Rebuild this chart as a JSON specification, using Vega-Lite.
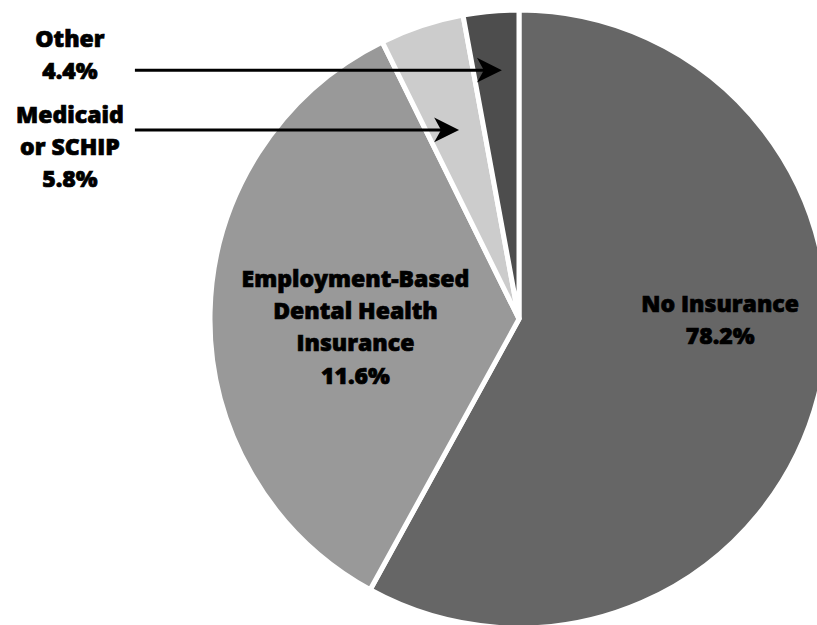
{
  "$schema": "https://vega.github.io/schema/vega-lite/v6.json",
  "width": 817,
  "height": 625,
  "padding": 0,
  "autosize": {"type": "none"},
  "background": "white",
  "config": {"view": {"stroke": null}},
  "datasets": {
    "slices": [
      {"category": "No Insurance", "share": 58.0},
      {"category": "Employment-Based Dental Health Insurance", "share": 34.7},
      {"category": "Medicaid or SCHIP", "share": 4.4},
      {"category": "Other", "share": 2.9}
    ],
    "labels": [
      {"label": "No Insurance\n78.2%", "lx": 0.653, "ly": 0.046},
      {"label": "Employment-Based\nDental Health\nInsurance\n11.6%", "lx": -0.531, "ly": 0.127},
      {"label": "Other\n4.4%", "lx": -1.458, "ly": 0.907},
      {"label": "Medicaid\nor SCHIP\n5.8%", "lx": -1.458, "ly": 0.66}
    ],
    "arrows": [
      {"target": "Other", "x0": -1.247, "x1": -0.1, "head": -0.096, "ay": 0.808},
      {"target": "Medicaid or SCHIP", "x0": -1.247, "x1": -0.24, "head": -0.235, "ay": 0.614}
    ]
  },
  "layer": [
    {
      "data": {"name": "slices"},
      "mark": {"type": "arc", "radius": 309, "stroke": "white", "strokeWidth": 5},
      "encoding": {
        "x": {"datum": 0, "type": "quantitative", "scale": {"domain": [-1.685, 0.9675]}, "axis": null},
        "y": {"datum": 0, "type": "quantitative", "scale": {"domain": [-0.9935, 1.0357]}, "axis": null},
        "theta": {"field": "share", "type": "quantitative", "stack": true},
        "order": {"field": "share", "sort": "descending"},
        "color": {
          "field": "category",
          "type": "nominal",
          "scale": {
            "domain": ["No Insurance", "Employment-Based Dental Health Insurance", "Medicaid or SCHIP", "Other"],
            "range": ["#666666", "#999999", "#cccccc", "#4d4d4d"]
          },
          "legend": null
        }
      }
    },
    {
      "data": {"name": "arrows"},
      "mark": {"type": "rule", "color": "black", "strokeWidth": 3},
      "encoding": {
        "x": {"field": "x0", "type": "quantitative", "scale": {"domain": [-1.685, 0.9675]}, "axis": null},
        "x2": {"field": "x1"},
        "y": {"field": "ay", "type": "quantitative", "scale": {"domain": [-0.9935, 1.0357]}, "axis": null}
      }
    },
    {
      "data": {"name": "arrows"},
      "mark": {"type": "point", "shape": "M1,0L-1,-1L-0.45,0L-1,1Z", "filled": true, "color": "black", "opacity": 1, "size": 620},
      "encoding": {
        "x": {"field": "head", "type": "quantitative", "scale": {"domain": [-1.685, 0.9675]}, "axis": null},
        "y": {"field": "ay", "type": "quantitative", "scale": {"domain": [-0.9935, 1.0357]}, "axis": null}
      }
    },
    {
      "data": {"name": "labels"},
      "mark": {"type": "text", "font": "Open Sans", "fontWeight": 800, "fontSize": 23, "lineHeight": 32.3, "lineBreak": "\n", "align": "center", "baseline": "middle", "color": "black", "stroke": "black", "strokeWidth": 0.7, "letterSpacing": -0.6},
      "encoding": {
        "x": {"field": "lx", "type": "quantitative", "scale": {"domain": [-1.685, 0.9675]}, "axis": null},
        "y": {"field": "ly", "type": "quantitative", "scale": {"domain": [-0.9935, 1.0357]}, "axis": null},
        "text": {"field": "label"}
      }
    }
  ]
}
